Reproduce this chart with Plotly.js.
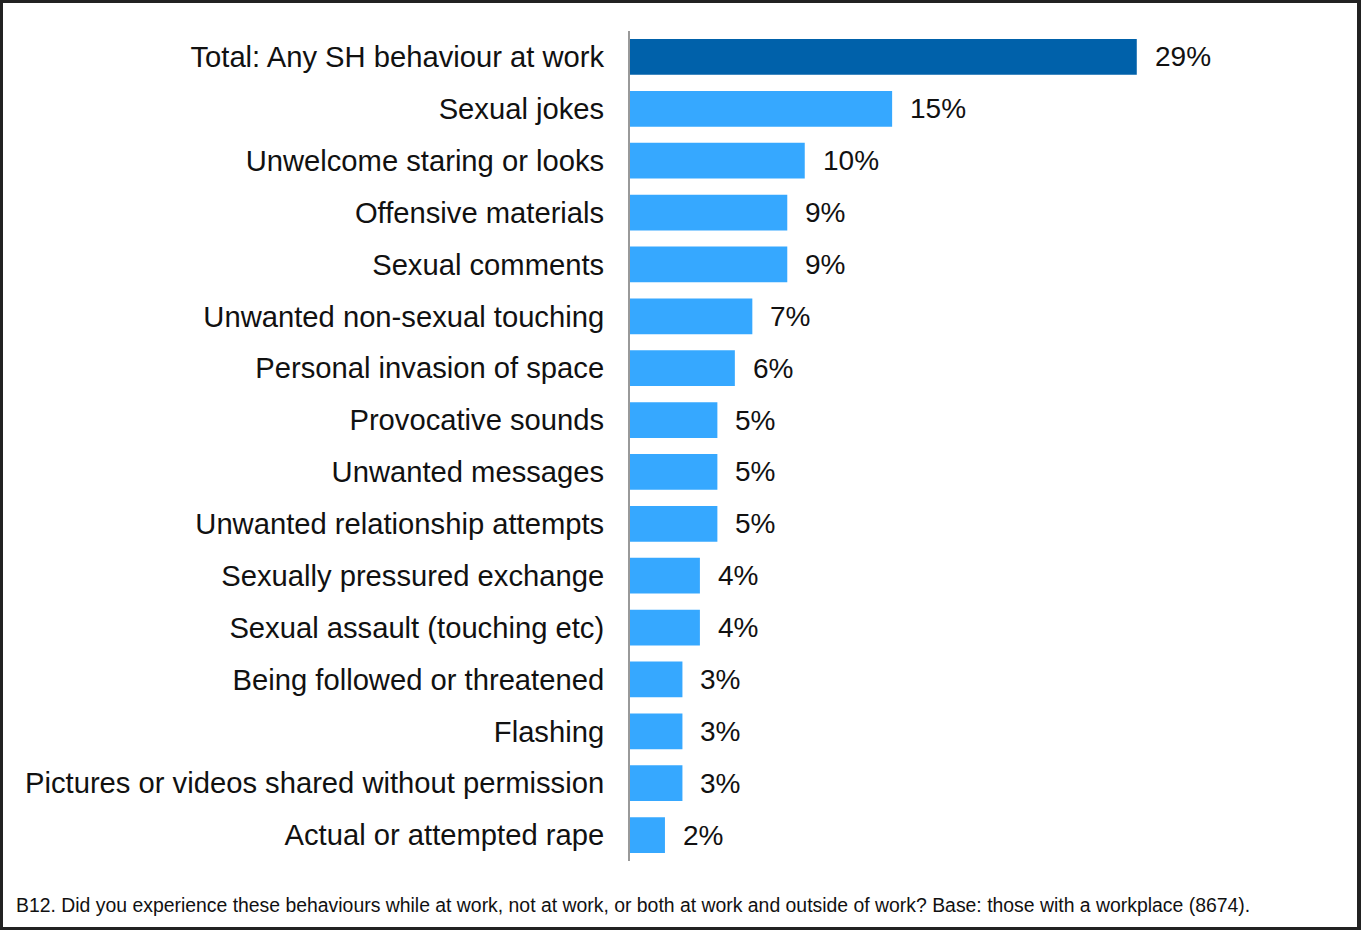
<!DOCTYPE html>
<html>
<head>
<meta charset="utf-8">
<script src="https://cdn.plot.ly/plotly-3.0.1.min.js"></script>
<style>
  html, body { margin: 0; padding: 0; background: #fff; }
  #wrap { position: relative; width: 1361px; height: 930px; }
  #chart { width: 1361px; height: 930px; }
  #frame { position: absolute; left: 0; top: 0; width: 1361px; height: 930px; box-sizing: border-box;
           border: 3px solid #222; border-right-width: 4px; pointer-events: none; }
</style>
</head>
<body>
<div id="wrap"><div id="chart"></div><div id="frame"></div></div>
<script>
const categories = [
  "Total: Any SH behaviour at work",
  "Sexual jokes",
  "Unwelcome staring or looks",
  "Offensive materials",
  "Sexual comments",
  "Unwanted non-sexual touching",
  "Personal invasion of space",
  "Provocative sounds",
  "Unwanted messages",
  "Unwanted relationship attempts",
  "Sexually pressured exchange",
  "Sexual assault (touching etc)",
  "Being followed or threatened",
  "Flashing",
  "Pictures or videos shared without permission",
  "Actual or attempted rape"
];
const values = [29, 15, 10, 9, 9, 7, 6, 5, 5, 5, 4, 4, 3, 3, 3, 2];
const valueLabels = ["29%", "15%", "10%", "9%", "9%", "7%", "6%", "5%", "5%", "5%", "4%", "4%", "3%", "3%", "3%", "2%"];
const footnote = "B12. Did you experience these behaviours while at work, not at work, or both at work and outside of work? Base: those with a workplace (8674).";

const colors = categories.map((c, i) => i === 0 ? "#0061AA" : "#36A8FF");

const font = "'Liberation Sans', Arial, Helvetica, sans-serif";

const annotations = values.map((v, i) => ({
  x: v, y: categories[i], xref: "x", yref: "y",
  text: valueLabels[i], showarrow: false,
  xanchor: "left", yanchor: "middle", xshift: 16,
  font: { family: font, size: 28, color: "#111" }
}));
annotations.push({
  xref: "paper", yref: "paper",
  x: (14 - 630) / 699, y: (861 - 905) / 830,
  xanchor: "left", yanchor: "middle",
  text: footnote, showarrow: false,
  font: { family: font, size: 19.4, color: "#111" }
});

const trace = {
  type: "bar", orientation: "h",
  x: values, y: categories,
  marker: { color: colors },
  width: 0.69,
  hoverinfo: "none"
};

const layout = {
  width: 1361, height: 930,
  margin: { l: 630, r: 32, t: 31, b: 69, pad: 0 },
  paper_bgcolor: "#fff", plot_bgcolor: "#fff",
  showlegend: false,
  font: { family: font, size: 28, color: "#111" },
  xaxis: { range: [0, 40], visible: false, fixedrange: true },
  yaxis: {
    autorange: false, range: [15.5, -0.5],
    type: "category",
    showline: true, linecolor: "#999", linewidth: 2,
    showgrid: false, zeroline: false,
    ticks: "outside", ticklen: 18, tickcolor: "rgba(0,0,0,0)",
    tickfont: { family: font, size: 29.2, color: "#111" }
  },
  annotations: annotations
};

Plotly.newPlot("chart", [trace], layout, { staticPlot: true, displayModeBar: false });
</script>
</body>
</html>
